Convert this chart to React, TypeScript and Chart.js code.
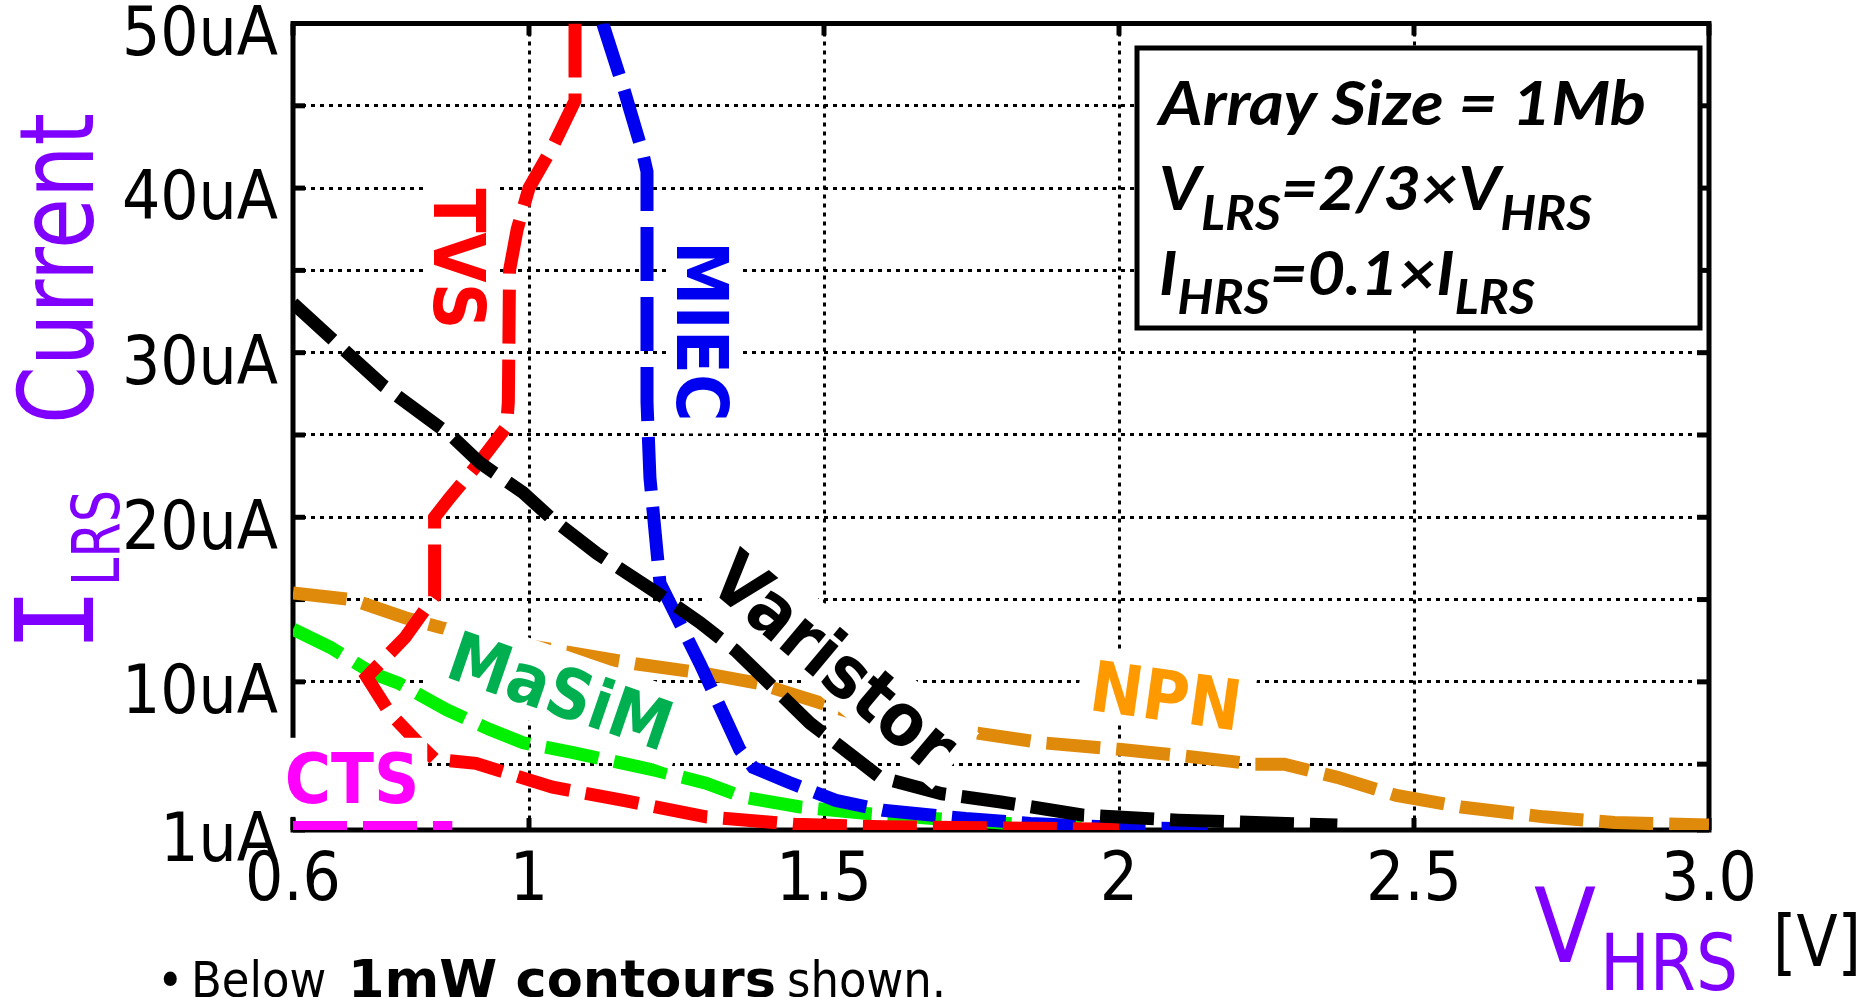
import React, { useEffect, useRef } from "react";
import { Chart, registerables } from "chart.js";

Chart.register(...registerables);

// ---------- data (V_HRS [V], I_LRS [uA]) ----------
const tvsV = [1.078, 1.078, 1.04, 1.0, 0.98, 0.967, 0.965, 0.962, 0.915, 0.866, 0.84, 0.84, 0.79, 0.725, 0.764, 0.82, 0.84, 0.91, 1.04, 1.16, 1.3, 1.45, 1.6, 1.85, 2.0];
const tvsI = [50, 45.3, 42.5, 40, 37.5, 35, 27, 25.5, 23.3, 21.2, 20, 15.2, 12.7, 10.3, 8.1, 6.0, 5.3, 5.05, 3.6, 2.8, 1.8, 1.35, 1.2, 1.1, 1.05];

const miecV = [1.125, 1.16, 1.193, 1.2, 1.2, 1.205, 1.222, 1.29, 1.357, 1.38, 1.44, 1.52, 1.6, 1.74, 1.85, 2.0, 2.15];
const miecI = [50, 46.1, 42.1, 41, 27, 22.4, 16, 11.1, 5.9, 4.8, 3.9, 2.8, 2.2, 1.7, 1.4, 1.15, 1.05];

const varistorV = [0.6, 0.753, 0.87, 0.917, 0.99, 1.036, 1.115, 1.217, 1.29, 1.35, 1.476, 1.595, 1.7, 1.8, 1.94, 2.1, 2.37];
const varistorI = [33, 28, 24.9, 23.3, 21.5, 20, 17.8, 15.4, 13.6, 11.9, 7.5, 4.2, 3.2, 2.7, 1.9, 1.6, 1.3];

const masimV = [0.6, 0.663, 0.736, 0.78, 0.861, 0.934, 0.99, 1.075, 1.217, 1.3, 1.363, 1.46, 1.573, 1.685, 1.854, 2.0];
const masimI = [13.2, 12.1, 10.5, 9.9, 8.3, 7.1, 6.3, 5.7, 4.6, 3.85, 3.0, 2.4, 2.0, 1.7, 1.3, 1.05];

const npnV = [0.6, 0.7, 0.79, 0.85, 1.0, 1.18, 1.3, 1.39, 1.46, 1.55, 1.72, 1.87, 2.0, 2.11, 2.23, 2.28, 2.37, 2.47, 2.58, 2.72, 2.84, 3.0];
const npnI = [15.4, 15.0, 13.9, 13.3, 12.2, 11.1, 10.5, 9.9, 9.1, 8.1, 7.1, 6.3, 5.9, 5.5, 5.0, 5.0, 4.2, 3.1, 2.4, 1.8, 1.45, 1.3];

const ctsV = [0.6, 0.72, 0.87];
const ctsI = [1.15, 1.15, 1.15];

const xTickValues = [0.6, 1, 1.5, 2, 2.5, 3.0];
const xTickLabels = ["0.6", "1", "1.5", "2", "2.5", "3.0"];
const yTickValues = [1, 5, 10, 15, 20, 25, 30, 35, 40, 45, 50];
const yTickLabels = ["1uA", "", "10uA", "", "20uA", "", "30uA", "", "40uA", "", "50uA"];

// ---------- styling ----------
const FONT = '"DejaVu Sans Condensed", "DejaVu Sans", sans-serif';
const BOXFONT = 'Lato, "Liberation Sans", sans-serif';
const PURPLE = "#8000FF";

const pts = (xs: number[], ys: number[]) => xs.map((x, i) => ({ x, y: ys[i] }));

const seriesDefs = [
  { name: "Varistor", xs: varistorV, ys: varistorI, color: "#000000", order: 1 },
  { name: "TVS", xs: tvsV, ys: tvsI, color: "#FF0000", order: 2 },
  { name: "MIEC", xs: miecV, ys: miecI, color: "#0000F0", order: 3 },
  { name: "MaSiM", xs: masimV, ys: masimI, color: "#00F000", order: 4 },
  { name: "CTS", xs: ctsV, ys: ctsI, color: "#FF00FF", order: 5 },
  { name: "NPN", xs: npnV, ys: npnI, color: "#E08A0C", order: 6 },
];

// in-plot series tags, anchored in data units
const tags = [
  { text: "TVS", v: 0.883, i: 35.7, angle: 90, color: "#FF0000", size: 72, padX: 12, padY: 10 },
  { text: "MIEC", v: 1.295, i: 31.3, angle: 90, color: "#0000F0", size: 72, padX: 12, padY: 10 },
  { text: "Varistor", v: 1.519, i: 11.3, angle: 40, color: "#000000", size: 73, padX: 10, padY: 10 },
  { text: "MaSiM", v: 1.054, i: 9.5, angle: 19, color: "#00B050", size: 69, padX: 14, padY: 14 },
  { text: "NPN", v: 2.08, i: 9.2, angle: 8, color: "#FF9900", size: 70, padX: 12, padY: 10 },
  { text: "CTS", v: 0.70, i: 4.2, angle: 0, color: "#FF00FF", size: 70, padX: 8, padY: 14 },
];

type Run = { t: string; font: string; dy?: number };

function drawRuns(ctx: CanvasRenderingContext2D, runs: Run[], x: number, y: number, targetW: number) {
  let total = 0;
  for (const r of runs) {
    ctx.font = r.font;
    total += ctx.measureText(r.t).width;
  }
  const s = targetW / total;
  ctx.save();
  ctx.translate(x, y);
  ctx.scale(s, 1);
  let cx = 0;
  for (const r of runs) {
    ctx.font = r.font;
    ctx.fillText(r.t, cx, r.dy || 0);
    cx += ctx.measureText(r.t).width;
  }
  ctx.restore();
}

function fitText(ctx: CanvasRenderingContext2D, text: string, x: number, y: number, targetW: number) {
  const w = ctx.measureText(text).width;
  const s = targetW / w;
  ctx.save();
  ctx.translate(x, y);
  ctx.scale(s, 1);
  ctx.fillText(text, 0, 0);
  ctx.restore();
}

const overlayPlugin = {
  id: "overlay",
  beforeDatasetsDraw(chart: any) {
    const { ctx, chartArea: a, scales } = chart;
    ctx.save();
    ctx.strokeStyle = "#000";
    ctx.lineWidth = 5;
    ctx.setLineDash([]);
    ctx.strokeRect(a.left, a.top, a.right - a.left, a.bottom - a.top);
    const seg = (x1: number, y1: number, x2: number, y2: number) => {
      ctx.beginPath();
      ctx.moveTo(x1, y1);
      ctx.lineTo(x2, y2);
      ctx.stroke();
    };
    yTickValues.forEach((v) => {
      const y = scales.y.getPixelForValue(v);
      seg(a.left, y, a.left + 12, y);
      seg(a.right - 12, y, a.right, y);
    });
    xTickValues.forEach((v) => {
      const x = scales.x.getPixelForValue(v);
      seg(x, a.bottom, x, a.bottom - 12);
      seg(x, a.top, x, a.top + 12);
    });
    ctx.restore();
  },
  afterDatasetsDraw(chart: any) {
    const { ctx, scales } = chart;
    ctx.save();
    ctx.setLineDash([]);
    // series tags with white backing
    for (const g of tags) {
      const cx = scales.x.getPixelForValue(g.v);
      const cy = scales.y.getPixelForValue(g.i);
      ctx.save();
      ctx.translate(cx, cy);
      ctx.rotate((g.angle * Math.PI) / 180);
      ctx.font = `bold ${g.size}px ${FONT}`;
      const w = ctx.measureText(g.text).width;
      const cap = g.size * 0.73;
      ctx.fillStyle = "#fff";
      ctx.fillRect(-w / 2 - g.padX, -cap / 2 - g.padY, w + 2 * g.padX, cap + 2 * g.padY);
      ctx.fillStyle = g.color;
      ctx.textAlign = "center";
      ctx.textBaseline = "alphabetic";
      ctx.fillText(g.text, 0, cap / 2);
      ctx.restore();
    }

    // condition box
    const bx = 1137, by = 48, bw = 563, bh = 280;
    ctx.fillStyle = "#fff";
    ctx.fillRect(bx, by, bw, bh);
    ctx.strokeStyle = "#000";
    ctx.lineWidth = 5;
    ctx.strokeRect(bx, by, bw, bh);
    ctx.fillStyle = "#000";
    ctx.textAlign = "left";
    ctx.textBaseline = "alphabetic";
    const main = `italic bold 62px ${BOXFONT}`;
    const sub = `italic bold 48px ${BOXFONT}`;
    drawRuns(ctx, [{ t: "Array Size = 1Mb", font: main }], 1159, 125, 487);
    drawRuns(ctx, [
      { t: "V", font: main },
      { t: "LRS", font: sub, dy: 20 },
      { t: "=2/3×V", font: main },
      { t: "HRS", font: sub, dy: 20 },
    ], 1159, 210, 433);
    drawRuns(ctx, [
      { t: "I", font: main },
      { t: "HRS", font: sub, dy: 19 },
      { t: "=0.1×I", font: main },
      { t: "LRS", font: sub, dy: 19 },
    ], 1159, 295, 376);

    // y axis title (rotated)
    ctx.save();
    ctx.translate(93, 652);
    ctx.rotate(-Math.PI / 2);
    ctx.fillStyle = PURPLE;
    ctx.font = `108px "DejaVu Sans Mono", monospace`;
    ctx.fillText("I", 0, 0);
    ctx.font = `66px ${FONT}`;
    fitText(ctx, "LRS", 66, 26, 96);
    ctx.font = `104px ${FONT}`;
    fitText(ctx, "Current", 228, 0, 311);
    ctx.restore();

    // x axis title
    ctx.fillStyle = PURPLE;
    ctx.font = `104px ${FONT}`;
    fitText(ctx, "V", 1534, 962, 62);
    ctx.font = `78px ${FONT}`;
    fitText(ctx, "HRS", 1600, 990, 138);
    ctx.fillStyle = "#000";
    ctx.font = `72px ${FONT}`;
    fitText(ctx, "[V]", 1773, 966, 88);

    // bottom note
    ctx.fillStyle = "#000";
    const nReg = `50px ${FONT}`;
    const nBold = `bold 52px ${FONT}`;
    ctx.font = nReg;
    ctx.fillText("•", 157, 997);
    ctx.fillText("Below", 191, 997);
    ctx.font = nBold;
    fitText(ctx, "1mW contours", 348, 997, 428);
    ctx.font = nReg;
    ctx.fillText("shown.", 787, 997);
    ctx.restore();
  },
};

export default function App() {
  const ref = useRef<HTMLCanvasElement | null>(null);

  useEffect(() => {
    if (!ref.current) return;
    Chart.defaults.font.family = FONT;
    const gridCommon = {
      color: "#000",
      lineWidth: 3,
      drawTicks: false,
    };
    const chart = new Chart(ref.current, {
      type: "scatter",
      data: {
        datasets: seriesDefs.map((s) => ({
          label: s.name,
          data: pts(s.xs, s.ys),
          showLine: true,
          borderColor: s.color,
          backgroundColor: s.color,
          borderWidth: 13,
          borderDash: [54, 16],
          borderCapStyle: "butt",
          borderJoinStyle: "miter",
          pointRadius: 0,
          tension: 0,
          fill: false,
          order: s.order,
        })),
      },
      options: {
        responsive: false,
        animation: false,
        devicePixelRatio: 1,
        layout: { padding: { top: 23.5, right: 162, left: 0, bottom: 0 } },
        plugins: {
          legend: { display: false },
          tooltip: { enabled: false },
          title: { display: false },
        },
        scales: {
          x: {
            type: "linear",
            min: 0.6,
            max: 3.0,
            afterBuildTicks: (s: any) => {
              s.ticks = xTickValues.map((v) => ({ value: v }));
            },
            afterFit: (s: any) => {
              s.height = 167;
              s.paddingLeft = 0;
              s.paddingRight = 0;
            },
            ticks: {
              autoSkip: false,
              maxRotation: 0,
              padding: 12,
              color: "#000",
              font: { size: 67, family: FONT },
              callback: (v: any) => xTickLabels[xTickValues.indexOf(Number(v))] ?? "",
            },
            grid: gridCommon,
            border: { display: false, dash: [4, 5] },
          },
          y: {
            type: "linear",
            min: 1,
            max: 50,
            afterBuildTicks: (s: any) => {
              s.ticks = yTickValues.map((v) => ({ value: v }));
            },
            afterFit: (s: any) => {
              s.width = 293;
              s.paddingTop = 0;
              s.paddingBottom = 0;
            },
            ticks: {
              autoSkip: false,
              padding: 15,
              labelOffset: 14,
              color: "#000",
              font: { size: 67, family: FONT },
              callback: (v: any) => yTickLabels[yTickValues.indexOf(Number(v))] ?? "",
            },
            grid: gridCommon,
            border: { display: false, dash: [4, 5] },
          },
        },
      },
      plugins: [overlayPlugin],
    } as any);
    return () => chart.destroy();
  }, []);

  return (
    <canvas
      ref={ref}
      width={1871}
      height={997}
      style={{ position: "fixed", left: 0, top: 0, width: 1871, height: 997, background: "#fff" }}
    />
  );
}
